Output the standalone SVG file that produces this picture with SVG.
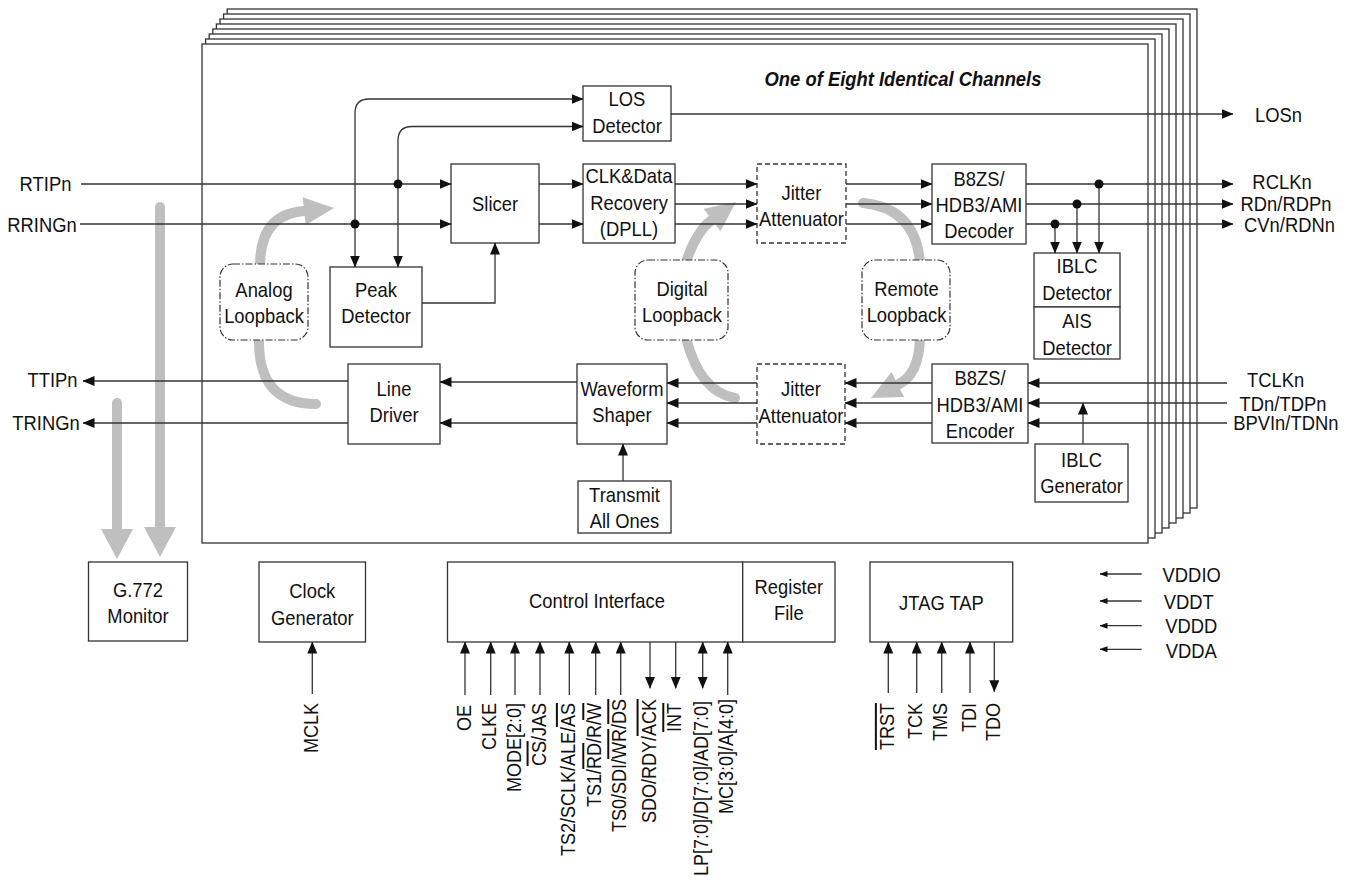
<svg xmlns="http://www.w3.org/2000/svg" width="1352" height="878" viewBox="0 0 1352 878">
<defs>
<marker id="ah" markerUnits="userSpaceOnUse" markerWidth="12" markerHeight="10" viewBox="0 0 12 10" refX="11.5" refY="5" orient="auto">
<path d="M0,0 L12,5 L0,10 z" fill="#111"/>
</marker>
<marker id="ahs" markerUnits="userSpaceOnUse" markerWidth="8" markerHeight="6" viewBox="0 0 8 6" refX="7.5" refY="3" orient="auto">
<path d="M0,0 L8,3 L0,6 z" fill="#111"/>
</marker>
<style>
.stk { fill:#fff; stroke:#333; stroke-width:1.3; }
.box { fill:#fff; stroke:#333; stroke-width:1.3; }
.dash { fill:#fff; stroke:#333; stroke-width:1.3; stroke-dasharray:5 3; }
.lb { fill:#fff; stroke:#333; stroke-width:1.2; stroke-dasharray:7 2 1.5 2; }
.w { fill:none; stroke:#333; stroke-width:1.3; marker-end:url(#ah); }
.ws { fill:none; stroke:#333; stroke-width:1.3; marker-end:url(#ahs); }
.pl { fill:none; stroke:#333; stroke-width:1.3; }
.g { fill:none; stroke:#bfbfbf; stroke-width:10; stroke-linecap:round; }
.gh { fill:#bfbfbf; }
.dot { fill:#111; }
text { font-family:"Liberation Sans", Arial, Helvetica, sans-serif; font-size:20px; fill:#111; }
.c { text-anchor:middle; transform-box:fill-box; transform-origin:center; transform:scaleX(0.92); }
.v { text-anchor:end; }
.ttl { font-weight:bold; font-style:italic; }
.ol { text-decoration:overline; }
</style>
</defs>

<g id="channel-stack">
<rect class="stk" x="227.2" y="9" width="969.8" height="499"/>
<rect class="stk" x="223.6" y="14" width="966.4" height="499"/>
<rect class="stk" x="220" y="19" width="963" height="499"/>
<rect class="stk" x="216.4" y="24" width="959.6" height="499"/>
<rect class="stk" x="212.8" y="29" width="956.2" height="499"/>
<rect class="stk" x="209.2" y="34" width="952.8" height="499"/>
<rect class="stk" x="205.6" y="39" width="949.4" height="499"/>
<rect class="stk" x="202" y="44" width="946" height="499"/>
<text class="c ttl" x="903" y="86">One of Eight Identical Channels</text>
</g>

<g id="loopback-arrows">
<path class="g" d="M260,266 Q260,214 304,211"/>
<polygon class="gh" points="334,208 302.7,197.3 305.7,225.1"/>
<path class="g" d="M259,342 Q259,404 316,404"/>
<path class="g" d="M686,262 Q697,230 712,220"/>
<polygon class="gh" points="736,202 703.6,208.8 720.4,231.2"/>
<path class="g" d="M686,338 Q700,392 735,398"/>
<path class="g" d="M863,203 Q915,208 920,262"/>
<path class="g" d="M920,338 Q919,375 898,384.6"/>
<polygon class="gh" points="871,398 891.5,372.1 904.1,397.1"/>
<path class="g" d="M160,207 V529"/>
<polygon class="gh" points="144,527 176,527 160,557"/>
<path class="g" d="M117,403 V531"/>
<polygon class="gh" points="101,529 133,529 117,559"/>
</g>

<g id="los-detector">
<rect class="box" x="583" y="86" width="88" height="55"/>
<text class="c" x="627" y="106.5">LOS</text>
<text class="c" x="627" y="133.5">Detector</text>
</g>
<g id="slicer">
<rect class="box" x="451" y="164" width="88" height="79"/>
<text class="c" x="495" y="211.5">Slicer</text>
</g>
<g id="clock-data-recovery">
<rect class="box" x="583" y="164" width="92" height="79"/>
<text class="c" x="629" y="183.5">CLK&amp;Data</text>
<text class="c" x="629" y="210">Recovery</text>
<text class="c" x="629" y="236.5">(DPLL)</text>
</g>
<g id="jitter-attenuator-rx">
<rect class="dash" x="757" y="164" width="89" height="79"/>
<text class="c" x="801.5" y="200">Jitter</text>
<text class="c" x="801.5" y="226.5">Attenuator</text>
</g>
<g id="decoder">
<rect class="box" x="932" y="164" width="94" height="80"/>
<text class="c" x="979" y="186">B8ZS/</text>
<text class="c" x="979" y="212">HDB3/AMI</text>
<text class="c" x="979" y="238">Decoder</text>
</g>
<g id="iblc-detector">
<rect class="box" x="1034" y="253" width="86" height="54"/>
<text class="c" x="1077" y="273.5">IBLC</text>
<text class="c" x="1077" y="300">Detector</text>
</g>
<g id="ais-detector">
<rect class="box" x="1034" y="307" width="86" height="52"/>
<text class="c" x="1077" y="328.5">AIS</text>
<text class="c" x="1077" y="355">Detector</text>
</g>
<g id="peak-detector">
<rect class="box" x="330" y="267" width="92" height="80"/>
<text class="c" x="376" y="297.5">Peak</text>
<text class="c" x="376" y="323">Detector</text>
</g>
<g id="analog-loopback">
<rect class="lb" x="220" y="264" width="88" height="76" rx="13"/>
<text class="c" x="264" y="297.5">Analog</text>
<text class="c" x="264" y="323">Loopback</text>
</g>
<g id="digital-loopback">
<rect class="lb" x="635" y="260" width="93" height="80" rx="13"/>
<text class="c" x="682" y="296.5">Digital</text>
<text class="c" x="682" y="322.5">Loopback</text>
</g>
<g id="remote-loopback">
<rect class="lb" x="862" y="260" width="88" height="80" rx="13"/>
<text class="c" x="906.5" y="296.5">Remote</text>
<text class="c" x="906.5" y="322.5">Loopback</text>
</g>
<g id="line-driver">
<rect class="box" x="348" y="364" width="92" height="80"/>
<text class="c" x="394" y="396.5">Line</text>
<text class="c" x="394" y="422.5">Driver</text>
</g>
<g id="waveform-shaper">
<rect class="box" x="577" y="364" width="90" height="80"/>
<text class="c" x="622" y="396.5">Waveform</text>
<text class="c" x="622" y="422.5">Shaper</text>
</g>
<g id="transmit-all-ones">
<rect class="box" x="578" y="481" width="93" height="52"/>
<text class="c" x="624.5" y="502.5">Transmit</text>
<text class="c" x="624.5" y="528">All Ones</text>
</g>
<g id="jitter-attenuator-tx">
<rect class="dash" x="757" y="364" width="88" height="80"/>
<text class="c" x="801" y="396.5">Jitter</text>
<text class="c" x="801" y="423">Attenuator</text>
</g>
<g id="encoder">
<rect class="box" x="932" y="364" width="96" height="79"/>
<text class="c" x="980" y="385.5">B8ZS/</text>
<text class="c" x="980" y="412">HDB3/AMI</text>
<text class="c" x="980" y="438">Encoder</text>
</g>
<g id="iblc-generator">
<rect class="box" x="1035" y="444" width="93" height="58"/>
<text class="c" x="1081.5" y="467.5">IBLC</text>
<text class="c" x="1081.5" y="493.5">Generator</text>
</g>
<g id="g772-monitor">
<rect class="box" x="88.5" y="562" width="99" height="79"/>
<text class="c" x="138" y="597">G.772</text>
<text class="c" x="138" y="623">Monitor</text>
</g>
<g id="clock-generator">
<rect class="box" x="259" y="562" width="106.5" height="80"/>
<text class="c" x="312.3" y="598.3">Clock</text>
<text class="c" x="312.3" y="625">Generator</text>
</g>
<g id="control-interface">
<rect class="box" x="447.5" y="562" width="295.2" height="80"/>
<text class="c" x="597" y="608.3">Control Interface</text>
</g>
<g id="register-file">
<rect class="box" x="742.7" y="562" width="92.3" height="80"/>
<text class="c" x="788.8" y="594">Register</text>
<text class="c" x="788.8" y="620">File</text>
</g>
<g id="jtag-tap">
<rect class="box" x="870" y="562" width="142.7" height="80"/>
<text class="c" x="941.5" y="610">JTAG TAP</text>
</g>

<g id="connectors">
<path class="w" d="M81,184 H451"/>
<path class="w" d="M80,224 H451"/>
<path class="w" d="M355,224 V267"/>
<path class="w" d="M355,224 V113 Q355,99 369,99 H583"/>
<path class="w" d="M398,184 V267"/>
<path class="w" d="M398,184 V140.5 Q398,126.5 412,126.5 H583"/>
<path class="w" d="M422,303 H495 V243"/>
<path class="w" d="M539,184 H583"/>
<path class="w" d="M539,224 H583"/>
<path class="w" d="M675,184 H757"/>
<path class="w" d="M675,204 H757"/>
<path class="w" d="M675,224 H757"/>
<path class="w" d="M846,184 H932"/>
<path class="w" d="M846,204 H932"/>
<path class="w" d="M846,224 H932"/>
<path class="w" d="M671,114 H1233"/>
<path class="w" d="M1026,184 H1233"/>
<path class="w" d="M1026,204 H1233"/>
<path class="w" d="M1026,224 H1233"/>
<path class="w" d="M1099,184 V253"/>
<path class="w" d="M1077,204 V253"/>
<path class="w" d="M1055,224 V253"/>
<circle class="dot" cx="398" cy="184" r="4.5"/>
<circle class="dot" cx="355" cy="224" r="4.5"/>
<circle class="dot" cx="1099" cy="184" r="4.5"/>
<circle class="dot" cx="1077" cy="204" r="4.5"/>
<circle class="dot" cx="1055" cy="224" r="4.5"/>

<path class="w" d="M1227,383 H1028"/>
<path class="w" d="M1227,403 H1028"/>
<path class="w" d="M1227,423 H1028"/>
<path class="w" d="M1083,444 V403"/>
<path class="w" d="M932,383 H845"/>
<path class="w" d="M932,403 H845"/>
<path class="w" d="M932,423 H845"/>
<path class="w" d="M757,383 H667"/>
<path class="w" d="M757,403 H667"/>
<path class="w" d="M757,423 H667"/>
<path class="w" d="M577,382 H440"/>
<path class="w" d="M577,423 H440"/>
<path class="w" d="M348,381 H83"/>
<path class="w" d="M348,423 H83"/>
<path class="w" d="M623,481 V444"/>

<path class="w" d="M312.3,694 V642"/>
<path class="w" d="M465,695 V642"/>
<path class="w" d="M490.7,695 V642"/>
<path class="w" d="M515,695 V642"/>
<path class="w" d="M540,695 V642"/>
<path class="w" d="M569.3,695 V642"/>
<path class="w" d="M595.7,695 V642"/>
<path class="w" d="M620.7,695 V642"/>
<path class="w" d="M650,642 V688.3"/>
<path class="w" d="M675.7,642 V688.3"/>
<path class="w" d="M702.7,665 V642"/>
<path class="w" d="M702.7,665 V688.3"/>
<path class="w" d="M727.7,695 V642"/>

<path class="w" d="M888.3,693 V642"/>
<path class="w" d="M916.7,693 V642"/>
<path class="w" d="M941.7,693 V642"/>
<path class="w" d="M970,693 V642"/>
<path class="w" d="M994.3,642 V691.7"/>

<path class="ws" d="M1141.7,574 H1100"/>
<path class="ws" d="M1141.7,601 H1100"/>
<path class="ws" d="M1141.7,625.7 H1100"/>
<path class="ws" d="M1141.7,649.3 H1100"/>
</g>

<g id="pin-labels">
<text class="c" x="45.5" y="190.7">RTIPn</text>
<text class="c" x="42" y="232">RRINGn</text>
<text class="c" x="52.5" y="387.3">TTIPn</text>
<text class="c" x="46" y="430">TRINGn</text>
<text class="c" x="1278.5" y="122">LOSn</text>
<text class="c" x="1282" y="189.3">RCLKn</text>
<text class="c" x="1286" y="211">RDn/RDPn</text>
<text class="c" x="1289.5" y="231.7">CVn/RDNn</text>
<text class="c" x="1275.7" y="387.3">TCLKn</text>
<text class="c" x="1283" y="410.7">TDn/TDPn</text>
<text class="c" x="1285.8" y="430">BPVIn/TDNn</text>
<text class="c" x="1191.7" y="581.7">VDDIO</text>
<text class="c" x="1188.8" y="609.3">VDDT</text>
<text class="c" x="1191.3" y="633.3">VDDD</text>
<text class="c" x="1191.3" y="658.3">VDDA</text>

<text class="v" transform="translate(317.8,703) rotate(-90) scale(0.9,1)">MCLK</text>
<text class="v" transform="translate(470.5,705) rotate(-90) scale(0.9,1)">OE</text>
<text class="v" transform="translate(496.2,703) rotate(-90) scale(0.9,1)">CLKE</text>
<text class="v" transform="translate(520.5,703) rotate(-90) scale(0.9,1)">MODE[2:0]</text>
<text class="v" transform="translate(545.5,703) rotate(-90) scale(0.9,1)"><tspan class="ol">CS</tspan>/JAS</text>
<text class="v" transform="translate(574.8,703) rotate(-90) scale(0.9,1)">TS2/SCLK/ALE/<tspan class="ol">AS</tspan></text>
<text class="v" transform="translate(601.2,703) rotate(-90) scale(0.9,1)">TS1/<tspan class="ol">RD</tspan>/R/<tspan class="ol">W</tspan></text>
<text class="v" transform="translate(626.2,699) rotate(-90) scale(0.9,1)">TS0/SDI/<tspan class="ol">WR</tspan>/<tspan class="ol">DS</tspan></text>
<text class="v" transform="translate(655.5,699) rotate(-90) scale(0.9,1)">SDO/RDY/<tspan class="ol">ACK</tspan></text>
<text class="v" transform="translate(681.2,703) rotate(-90) scale(0.9,1)"><tspan class="ol">INT</tspan></text>
<text class="v" transform="translate(708.2,701) rotate(-90) scale(0.9,1)">LP[7:0]/D[7:0]/AD[7:0]</text>
<text class="v" transform="translate(733.2,699) rotate(-90) scale(0.9,1)">MC[3:0]/A[4:0]</text>

<text class="v" transform="translate(893.8,703) rotate(-90) scale(0.9,1)"><tspan class="ol">TRST</tspan></text>
<text class="v" transform="translate(922.2,703) rotate(-90) scale(0.9,1)">TCK</text>
<text class="v" transform="translate(947.2,703) rotate(-90) scale(0.9,1)">TMS</text>
<text class="v" transform="translate(975.5,703) rotate(-90) scale(0.9,1)">TDI</text>
<text class="v" transform="translate(999.8,703) rotate(-90) scale(0.9,1)">TDO</text>
</g>
</svg>
